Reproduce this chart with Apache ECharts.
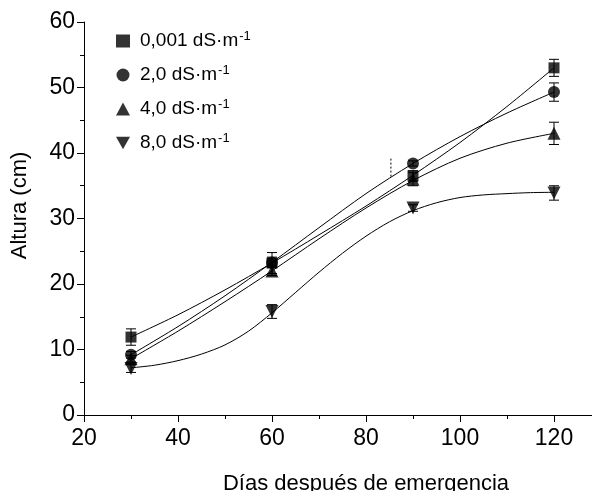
<!DOCTYPE html>
<html>
<head>
<meta charset="utf-8">
<script src="https://cdn.jsdelivr.net/npm/echarts@6/dist/echarts.min.js"></script>
<style>html,body{margin:0;padding:0;background:#fff;}#c{width:592px;height:491px;}</style>
</head>
<body>
<div id="c"></div>
<script>
const days = [30, 60, 90, 120];
const seriesNames = ['0,001 dS·m-1', '2,0 dS·m-1', '4,0 dS·m-1', '8,0 dS·m-1'];
const altura001 = [11.9, 23.2, 36.5, 53.0];
const altura2 = [9.2, 23.3, 38.4, 49.3];
const altura4 = [8.6, 22.0, 36.0, 43.0];
const altura8 = [7.1, 15.8, 31.6, 33.9];
const err001 = [1.25, 1.6, 0.8, 1.3];
const err2 = [0.5, 0.8, 0.4, 1.4];
const err4 = [0.5, 0.7, 1.0, 1.7];
const err8 = [0.6, 1.05, 0.5, 1.1];

// fitted curves
const curveDays10 = [30, 40, 50, 60, 70, 80, 90, 100, 110, 120];
const curve001 = [11.9, 15.3, 19.1, 23.2, 27.5, 31.9, 36.6, 41.6, 47.1, 53.0];
const curve2 = [9.2, 13.5, 18.2, 23.3, 28.6, 33.8, 38.4, 42.5, 46.1, 49.3];
const curve4 = [8.6, 12.8, 17.3, 22.0, 26.9, 31.6, 35.8, 39.2, 41.5, 43.0];
const curveDays5 = [30, 35, 40, 45, 50, 55, 60, 65, 70, 75, 80, 85, 90, 95, 100, 105, 110, 115, 120];
const curve8 = [7.2, 7.6, 8.3, 9.3, 10.7, 12.8, 15.6, 18.7, 21.8, 24.7, 27.3, 29.5, 31.2, 32.4, 33.2, 33.6, 33.8, 33.95, 34.0];

const dashX = [85.3, 85.3];
const dashY = [36.4, 39.2];

const xTicks = [20, 40, 60, 80, 100, 120];

const FONT = "'Liberation Sans', Arial, sans-serif";
const symbols = ['rect', 'circle', 'triangle', 'path://M0,0L10,0L5,9Z'];
const sizes = [11, 12, 13, 13];
const means = [altura001, altura2, altura4, altura8];
const errs = [err001, err2, err4, err8];
const curves = [[curveDays10, curve001], [curveDays10, curve2], [curveDays10, curve4], [curveDays5, curve8]];

const zip = (a, b) => a.map((v, i) => [v, b[i]]);

const series = [];
curves.forEach((c, i) => {
  series.push({
    type: 'line', name: 'curve' + i, data: zip(c[0], c[1]), smooth: 0.3,
    showSymbol: false, symbol: 'none', lineStyle: { color: '#000', width: 1 }, z: 2, silent: true
  });
});
means.forEach((m, i) => {
  series.push({
    type: 'custom', name: 'err' + i, z: 3, silent: true,
    data: days.map((d, j) => [d, m[j] - errs[i][j], m[j] + errs[i][j]]),
    renderItem: function (params, api) {
      const lo = api.coord([api.value(0), api.value(1)]);
      const hi = api.coord([api.value(0), api.value(2)]);
      const w = 5;
      const st = { stroke: '#000', lineWidth: 1 };
      return {
        type: 'group', children: [
          { type: 'line', shape: { x1: lo[0], y1: lo[1], x2: hi[0], y2: hi[1] }, style: st },
          { type: 'line', shape: { x1: lo[0] - w, y1: lo[1], x2: lo[0] + w, y2: lo[1] }, style: st },
          { type: 'line', shape: { x1: hi[0] - w, y1: hi[1], x2: hi[0] + w, y2: hi[1] }, style: st }
        ]
      };
    }
  });
});
means.forEach((m, i) => {
  series.push({
    type: 'scatter', name: seriesNames[i], data: zip(days, m), symbol: symbols[i], symbolSize: sizes[i],
    itemStyle: { color: '#000' }, z: 4
  });
});
series.push({
  type: 'line', name: 'dash', data: zip(dashX, dashY), showSymbol: false, symbol: 'none',
  lineStyle: { color: '#000', width: 1, type: [2, 2] }, z: 2, silent: true
});

const chart = echarts.init(document.getElementById('c'));
chart.setOption({
  animation: false,
  backgroundColor: '#fff',
  grid: { left: 84, top: 22, width: 564, height: 393, containLabel: false, outerBoundsMode: 'none' },
  legend: {
    data: seriesNames, orient: 'vertical', left: 111, top: 25, itemGap: 13.5,
    itemWidth: 14, itemHeight: 13, selectedMode: false,
    formatter: n => '{a|' + n.replace(/-1$/, '') + '}{s|-1}',
    textStyle: {
      color: '#000', fontFamily: FONT, fontSize: 19,
      rich: {
        a: { fontSize: 19, fontFamily: FONT, color: '#000', lineHeight: 22, padding: [0, 0, 0, 5] },
        s: { fontSize: 13, fontFamily: FONT, color: '#000', lineHeight: 13, verticalAlign: 'top', padding: [0, 0, 0, 1] }
      }
    }
  },
  xAxis: {
    type: 'value', min: 20, max: 140, interval: 20,
    name: 'Días después de emergencia', nameLocation: 'middle', nameGap: 58,
    nameTextStyle: { color: '#000', fontFamily: FONT, fontSize: 22 },
    axisLine: { show: true, onZero: false, lineStyle: { color: '#000', width: 1 } },
    axisTick: { show: true, inside: false, length: 7, lineStyle: { color: '#000' } },
    minorTick: { show: true, splitNumber: 2, length: 4, lineStyle: { color: '#000' } },
    axisLabel: {
      color: '#000', fontFamily: FONT, fontSize: 23, margin: 12,
      formatter: v => (xTicks.indexOf(v) >= 0 ? String(v) : '')
    },
    splitLine: { show: false }
  },
  yAxis: {
    type: 'value', min: 0, max: 60, interval: 10,
    name: 'Altura (cm)', nameLocation: 'middle', nameGap: 53, nameRotate: 90,
    nameTextStyle: { color: '#000', fontFamily: FONT, fontSize: 22, padding: [0, 0, 0, 26] },
    axisLine: { show: true, lineStyle: { color: '#000', width: 1 } },
    axisTick: { show: true, inside: false, length: 7, lineStyle: { color: '#000' } },
    minorTick: { show: true, splitNumber: 2, length: 4, lineStyle: { color: '#000' } },
    axisLabel: { color: '#000', fontFamily: FONT, fontSize: 23, margin: 9 },
    splitLine: { show: false }
  },
  series: series
});
</script>
</body>
</html>
